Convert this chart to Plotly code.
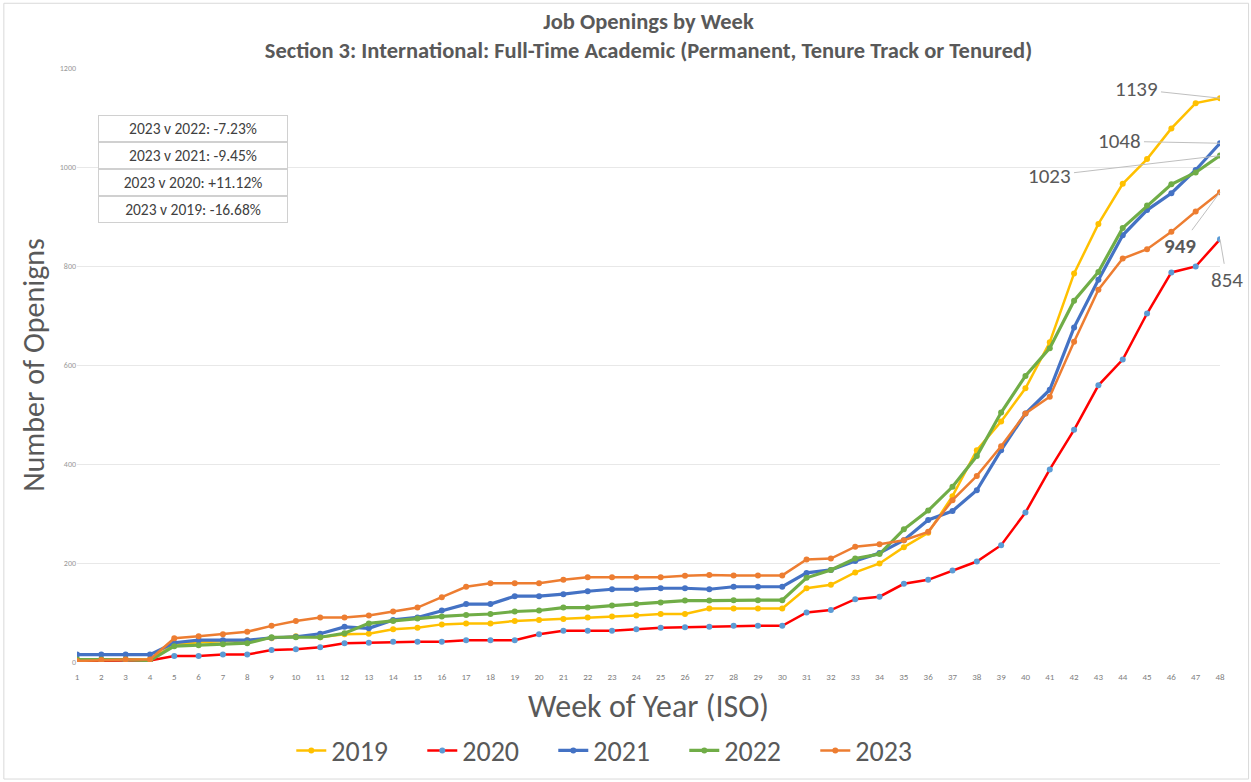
import plotly.graph_objects as go

weeks = list(range(1, 49))

y2019 = [5, 5, 5, 5, 35, 40, 42, 44, 48, 52, 50, 56, 57, 66, 69, 76, 78, 78, 83, 85,
         87, 90, 92, 94, 97, 97, 108, 108, 108, 108, 149, 156, 181, 199, 232, 261, 335, 428,
         486, 553, 646, 785, 885, 966, 1016, 1078, 1129, 1139]
y2020 = [2, 3, 3, 3, 12, 12, 15, 15, 24, 26, 30, 38, 39, 41, 41, 41, 44, 44, 44, 56,
         63, 63, 63, 66, 69, 70, 71, 73, 73, 73, 100, 105, 127, 132, 158, 166, 185, 203,
         236, 302, 389, 469, 559, 611, 704, 787, 799, 854]
y2021 = [15, 15, 15, 15, 39, 44, 44, 44, 49, 51, 57, 71, 68, 85, 90, 104, 117, 117, 133, 133,
         137, 143, 147, 147, 149, 149, 147, 152, 152, 152, 180, 186, 204, 220, 246, 287, 305, 347,
         428, 502, 550, 676, 772, 862, 913, 947, 994, 1048]
y2022 = [5, 5, 5, 3, 32, 34, 36, 38, 50, 50, 50, 58, 78, 83, 88, 92, 95, 97, 102, 104,
         110, 110, 114, 117, 120, 124, 124, 125, 125, 125, 170, 186, 209, 218, 268, 306, 354, 416,
         504, 578, 634, 730, 788, 877, 922, 965, 989, 1023]
y2023 = [2, 4, 5, 5, 48, 52, 56, 61, 73, 83, 90, 90, 94, 102, 110, 131, 152, 159, 159, 159,
         166, 171, 171, 171, 171, 174, 176, 175, 175, 175, 207, 209, 233, 238, 246, 263, 327, 376,
         436, 502, 536, 647, 752, 815, 834, 869, 910, 949]

series_names = ["2019", "2020", "2021", "2022", "2023"]
series_values = [y2019, y2020, y2021, y2022, y2023]
line_colors = ["#FFC000", "#FF0000", "#4472C4", "#70AD47", "#ED7D31"]
marker_colors = ["#FFC000", "#5B9BD5", "#4472C4", "#70AD47", "#ED7D31"]
line_widths = [2.5, 2.5, 3.2, 3.2, 2.5]

comparison_text = ["2023 v 2022: -7.23%", "2023 v 2021: -9.45%",
                   "2023 v 2020: +11.12%", "2023 v 2019: -16.68%"]

FONT = "Carlito, Calibri, 'Liberation Sans Narrow', 'Open Sans', sans-serif"
GRAY = "#595959"

fig = go.Figure()
for name, vals, lc, mc, lw in zip(series_names, series_values, line_colors, marker_colors, line_widths):
    fig.add_trace(go.Scatter(
        x=weeks, y=vals, name=name, mode="lines+markers",
        line=dict(color=lc, width=lw),
        marker=dict(color=mc, size=6, symbol="circle"),
    ))

# leader-line labels at the final week
label_offsets = {"2019": (-84, -9), "2020": (7, 41), "2021": (-101, -2),
                 "2022": (-171, 20), "2023": (-40, 54)}
for name, vals in zip(series_names, series_values):
    ax, ay = label_offsets[name]
    fig.add_annotation(
        x=weeks[-1], y=vals[-1], xref="x", yref="y",
        text=f"<b>{vals[-1]}</b>" if name == "2023" else str(vals[-1]),
        showarrow=True, arrowhead=0, arrowwidth=1, arrowcolor="#bfbfbf",
        ax=ax, ay=ay, standoff=0, startstandoff=2,
        font=dict(family=FONT, size=21, color=GRAY),
    )

# comparison boxes
box_y = [0.8985, 0.853, 0.8075, 0.762]
for txt, yy in zip(comparison_text, box_y):
    fig.add_annotation(
        x=0.1015, y=yy, xref="paper", yref="paper", text=txt, showarrow=False,
        width=186, height=23, bordercolor="#d0d0d0", borderwidth=1, borderpad=1,
        bgcolor="white", xanchor="center", yanchor="middle",
        font=dict(family=FONT, size=15.5, color="#404040"),
    )

fig.update_layout(
    width=1251, height=782,
    paper_bgcolor="white", plot_bgcolor="white",
    margin=dict(l=77, r=31, t=68, b=120),
    title=dict(
        text="<b>Job Openings by Week</b><br><b>Section 3: International: Full-Time Academic (Permanent, Tenure Track or Tenured)</b>",
        x=0.5, xanchor="center", xref="paper", y=0.963, yanchor="top", yref="container",
        font=dict(family=FONT, size=22.5, color=GRAY),
    ),
    font=dict(family=FONT, color=GRAY),
    xaxis=dict(
        range=[1, 48], tickmode="array", tickvals=weeks, ticktext=[str(w) for w in weeks],
        showgrid=False, zeroline=False, showline=False, automargin=False,
        ticklabelstandoff=8,
        tickfont=dict(size=9, color="#7f7f7f"),
        title=dict(text="Week of Year (ISO)", font=dict(size=32, color=GRAY), standoff=35),
    ),
    yaxis=dict(
        range=[0, 1200], dtick=200, showgrid=True, gridcolor="#e8e8e8", gridwidth=1,
        zeroline=False, showline=False, automargin=False,
        tickfont=dict(size=8, color="#999999"),
        title=dict(text="Number of Openigns", font=dict(size=30, color=GRAY), standoff=6),
    ),
    legend=dict(
        orientation="h", x=0.474, xanchor="center", xref="paper",
        y=0.04, yanchor="middle", yref="container",
        font=dict(family=FONT, size=28, color=GRAY), itemwidth=30,
        entrywidth=86, entrywidthmode="pixels",
    ),
    shapes=[dict(type="rect", xref="paper", yref="paper", x0=-0.064, x1=1.025, y0=-0.197, y1=1.109,
                 line=dict(color="#d9d9d9", width=1))],
)

fig.write_html("out.html", config={"displayModeBar": False},
               post_script="document.body.style.margin='0';")
